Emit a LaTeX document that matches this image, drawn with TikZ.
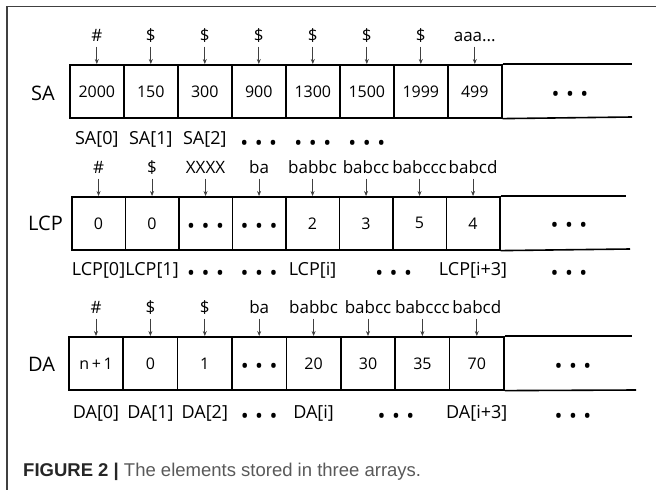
\documentclass[tikz,border=0pt]{standalone}
\usepackage{fontspec}
\setmainfont{Open Sans}
\newfontfamily\capfont{Liberation Sans}
\usetikzlibrary{arrows.meta}
\newcommand{\ddd}{{\fontsize{21}{21}\selectfont •\hspace{6.5pt}•\hspace{6.5pt}•}}
\newcommand{\adots}{aaa...}
\newcommand{\ecell}{}
\begin{document}
\begin{tikzpicture}[x=1pt,y=-1pt,
  cellbox/.style={draw, line width=1.6pt, minimum height=53pt, inner sep=0pt, anchor=north west, font=\fontsize{16}{16}\selectfont},
  toplab/.style={anchor=base, inner sep=0pt, font=\fontsize{17}{17}\selectfont},
  idxlab/.style={anchor=base, inner sep=0pt, font=\fontsize{18}{18}\selectfont},
  dotlab/.style={inner sep=0pt, yshift=-5pt},
  rowlab/.style={anchor=base west, inner sep=0pt, font=\fontsize{20}{20}\selectfont},
  arr/.style={-{Stealth[length=5pt,width=4pt]}, line width=0.7pt, black!75},
  rowline/.style={line width=1.6pt},
  frame/.style={line width=1.4pt, black!75}]
\useasboundingbox (0,0) rectangle (656,490);
\draw[frame] (656,6.5) -- (7,6.5) -- (7,490);

% ---------- SA ----------
\node[rowlab] (salab) at (31,100) {SA};
\foreach \v [count=\i] in {2000,150,300,900,1300,1500,1999,499}
  \node[cellbox, minimum width=54pt] (sa\i) at ({69+54*(\i-1)},64) {\v};
\coordinate (saet) at (632,64);
\coordinate (saeb) at (632,117);
\draw[rowline] (sa8.north east) -- (saet);
\draw[rowline] (sa8.south east) -- (saeb);
\node[dotlab] (sa9) at (570,91.5) {\ddd};
\foreach \t [count=\i] in {\#,\$,\$,\$,\$,\$,\$,\adots}{
  \node[toplab] (sat\i) at (sa\i.north |- 0,41) {\t};
  \coordinate (sap\i) at ([yshift=17.5pt]sa\i.north);
  \draw[arr] (sap\i) -- (sa\i.north);
}
\node[idxlab] (sai1) at (sa1.south |- 0,144) {SA[0]};
\node[idxlab] (sai2) at (sa2.south |- 0,144) {SA[1]};
\node[idxlab] (sai3) at (sa3.south |- 0,144) {SA[2]};
\node[dotlab] (sai4) at (sa4.south |- 0,140) {\ddd};
\node[dotlab] (sai5) at (sa5.south |- 0,140) {\ddd};
\node[dotlab] (sai6) at (sa6.south |- 0,140) {\ddd};

% ---------- LCP ----------
\node[rowlab] (lcplab) at (28,230) {LCP};
\foreach \v [count=\i] in {0,0,\ecell,\ecell,2,3,5,4}
  \node[cellbox, minimum width=53.5pt] (lcp\i) at ({71+53.5*(\i-1)},196) {\v};
\node[dotlab] (lcpd3) at (lcp3) {\ddd};
\node[dotlab] (lcpd4) at (lcp4) {\ddd};
\coordinate (lcpet) at (626,196);
\coordinate (lcpeb) at (630,249);
\draw[rowline] (lcp8.north east) -- (lcpet);
\draw[rowline] (lcp8.south east) -- (lcpeb);
\node[dotlab] (lcp9) at (569,222) {\ddd};
\foreach \t [count=\i] in {\#,\$,XXXX,ba,babbc,babcc,babccc,babcd}{
  \node[toplab] (lcpt\i) at (lcp\i.north |- 0,173) {\t};
  \coordinate (lcpp\i) at ([yshift=17.5pt]lcp\i.north);
  \draw[arr] (lcpp\i) -- (lcp\i.north);
}
\node[idxlab] (lcpi1) at (lcp1.south |- 0,275) {LCP[0]};
\node[idxlab] (lcpi2) at (lcp2.south |- 0,275) {LCP[1]};
\node[dotlab] (lcpi3) at (lcp3.south |- 0,270) {\ddd};
\node[dotlab] (lcpi4) at (lcp4.south |- 0,270) {\ddd};
\node[idxlab] (lcpi5) at (lcp5.south |- 0,275) {LCP[i]};
\node[dotlab] (lcpi6) at (lcp6.south east |- 0,270) {\ddd};
\node[idxlab] (lcpi8) at (lcp8.south |- 0,275) {LCP[i+3]};
\node[dotlab] (lcpi9) at (569,270) {\ddd};

% ---------- DA ----------
\node[rowlab] (dalab) at (28,371.7) {DA};
\foreach \v [count=\i] in {n\,+\,1,0,1,\ecell,20,30,35,70}
  \node[cellbox, minimum width=54.4pt] (da\i) at ({68+54.4*(\i-1)},336) {\v};
\node[dotlab] (dad4) at (da4) {\ddd};
\coordinate (daet) at (632,336);
\coordinate (daeb) at (636,390);
\draw[rowline] (da8.north east) -- (daet);
\draw[rowline] (da8.south east) -- (daeb);
\node[dotlab] (da9) at (573,363) {\ddd};
\foreach \t [count=\i] in {\#,\$,\$,ba,babbc,babcc,babccc,babcd}{
  \node[toplab] (dat\i) at (da\i.north |- 0,313) {\t};
  \coordinate (dap\i) at ([yshift=17.5pt]da\i.north);
  \draw[arr] (dap\i) -- (da\i.north);
}
\node[idxlab] (dai1) at (da1.south |- 0,418) {DA[0]};
\node[idxlab] (dai2) at (da2.south |- 0,418) {DA[1]};
\node[idxlab] (dai3) at (da3.south |- 0,418) {DA[2]};
\node[dotlab] (dai4) at (da4.south |- 0,413) {\ddd};
\node[idxlab] (dai5) at (da5.south |- 0,418) {DA[i]};
\node[dotlab] (dai6) at (da6.south east |- 0,413) {\ddd};
\node[idxlab] (dai8) at (da8.south |- 0,418) {DA[i+3]};
\node[dotlab] (dai9) at (573,413) {\ddd};

% ---------- caption ----------
\node[anchor=base west, inner sep=0pt, font=\capfont\fontsize{18.5}{20}\selectfont, text=black!65] (cap) at (23,476.7)
  {\textcolor{black!85}{\textbf{FIGURE 2 |}} The elements stored in three arrays.};
\end{tikzpicture}
\end{document}
